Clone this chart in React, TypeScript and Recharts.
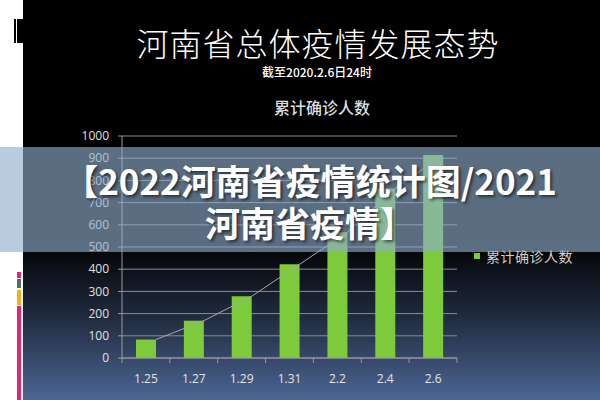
import { ComposedChart, Bar, Line, XAxis, YAxis, CartesianGrid } from "recharts";

const dates = ["1.25", "1.27", "1.29", "1.31", "2.2", "2.4", "2.6"];
const confirmed = [83, 168, 278, 422, 566, 764, 914];
const yTicks = [0, 100, 200, 300, 400, 500, 600, 700, 800, 900, 1000];

const title = "河南省总体疫情发展态势";
const subtitle = "截至2020.2.6日24时";
const seriesName = "累计确诊人数";
const bannerLines = ["【2022河南省疫情统计图/2021", "河南省疫情】"];

const data = dates.map((date, i) => ({ date, value: confirmed[i] }));

// plot box (px)
const PLOT_LEFT = 122;
const PLOT_RIGHT = 457;
const PLOT_TOP = 136;
const PLOT_BOTTOM = 358;
const band = (PLOT_RIGHT - PLOT_LEFT) / dates.length;

const barColor = "#7dcb3b";
const axisColor = "#9a9a9a";
const cjk = '"Noto Sans CJK SC", "Noto Sans", sans-serif';
const latin = '"Open Sans", "DejaVu Sans", sans-serif';

function DateTick(props: any) {
  const { x, payload, index } = props;
  const left = x - band / 2;
  return (
    <g>
      <line x1={left} x2={left} y1={PLOT_BOTTOM} y2={PLOT_BOTTOM + 5} stroke={axisColor} />
      {index === dates.length - 1 && (
        <line x1={x + band / 2} x2={x + band / 2} y1={PLOT_BOTTOM} y2={PLOT_BOTTOM + 5} stroke={axisColor} />
      )}
      <text x={x} y={PLOT_BOTTOM + 25} textAnchor="middle" fill="#e4e4e4" fontSize={12} fontFamily={latin}>
        {payload.value}
      </text>
    </g>
  );
}

export default function App() {
  return (
    <div style={{ position: "absolute", left: 0, top: 0, width: 600, height: 400, overflow: "hidden", background: "#fff" }}>
      <style>{`.trend-line { transform: translateX(10px); }`}</style>

      {/* left white strip decorations */}
      <div style={{ position: "absolute", left: 14, top: 19, width: 9, height: 24, background: "#000" }} />
      <div style={{ position: "absolute", left: 16, top: 19, width: 1, height: 24, background: "#fff" }} />
      <div style={{ position: "absolute", left: 17, top: 272, width: 4, height: 6, background: "#e0257a" }} />
      <div style={{ position: "absolute", left: 17, top: 279, width: 4, height: 9, background: "#566878" }} />
      <div style={{ position: "absolute", left: 17, top: 290, width: 4, height: 15, background: "#f2b01e" }} />
      <div style={{ position: "absolute", left: 17, top: 306, width: 4, height: 94, background: "#e0257a" }} />

      {/* slide */}
      <div
        style={{
          position: "absolute",
          left: 23,
          top: 0,
          width: 577,
          height: 400,
          background: "linear-gradient(to bottom, #000 0%, #000 60%, #222d42 80%, #4c6694 100%)",
        }}
      />

      <div style={{ position: "absolute", left: 0, width: 636, top: 25, textAlign: "center", color: "#fff", fontFamily: cjk, fontWeight: 300, fontSize: 32, lineHeight: "34px", letterSpacing: 1 }}>
        {title}
      </div>
      <div style={{ position: "absolute", left: 0, width: 634, top: 64, textAlign: "center", color: "#fff", fontFamily: cjk, fontWeight: 500, fontSize: 12, lineHeight: "16px" }}>
        {subtitle}
      </div>
      <div style={{ position: "absolute", left: 0, width: 644, top: 97, textAlign: "center", color: "#dcdcdc", fontFamily: cjk, fontWeight: 500, fontSize: 16, lineHeight: "20px" }}>
        {seriesName}
      </div>

      <div style={{ position: "absolute", left: 0, top: 0 }}>
        <ComposedChart
          width={600}
          height={400}
          data={data}
          margin={{ top: PLOT_TOP, right: 600 - PLOT_RIGHT, left: 60, bottom: 0 }}
        >
          <CartesianGrid vertical={false} stroke="#8c8c8c" />
          <XAxis
            dataKey="date"
            height={400 - PLOT_BOTTOM}
            axisLine={{ stroke: axisColor }}
            tickLine={false}
            tick={<DateTick />}
            interval={0}
          />
          <YAxis
            width={PLOT_LEFT - 60}
            domain={[0, 1000]}
            ticks={yTicks}
            interval={0}
            tickSize={4}
            tickMargin={9}
            axisLine={{ stroke: axisColor }}
            tickLine={{ stroke: axisColor }}
            tick={{ fill: "#e0e0e0", fontSize: 12, fontFamily: latin }}
          />
          <Bar dataKey="value" fill={barColor} barSize={20} isAnimationActive={false} />
          <Line
            className="trend-line"
            dataKey="value"
            type="linear"
            stroke="#a8a8a8"
            strokeWidth={1}
            dot={false}
            activeDot={false}
            isAnimationActive={false}
          />
        </ComposedChart>
      </div>

      {/* legend */}
      <div style={{ position: "absolute", left: 474, top: 253, width: 6, height: 6, background: barColor }} />
      <div style={{ position: "absolute", left: 486, top: 246, color: "#cfcfcf", fontFamily: cjk, fontSize: 14, lineHeight: "20px", letterSpacing: 0.5 }}>
        {seriesName}
      </div>

      {/* translucent banner */}
      <div style={{ position: "absolute", left: 0, top: 147, width: 600, height: 105, background: "rgba(142,173,205,0.63)" }} />
      {bannerLines.map((line, i) => (
        <div
          key={i}
          style={{
            position: "absolute",
            left: 0,
            width: 620,
            top: 161 + i * 42,
            textAlign: "center",
            color: "#fff",
            fontFamily: cjk,
            fontWeight: 700,
            fontSize: 35,
            lineHeight: "38px",
            textShadow: "2px 2px 3px rgba(0,0,0,0.55)",
            whiteSpace: "nowrap",
          }}
        >
          {line}
        </div>
      ))}
    </div>
  );
}
